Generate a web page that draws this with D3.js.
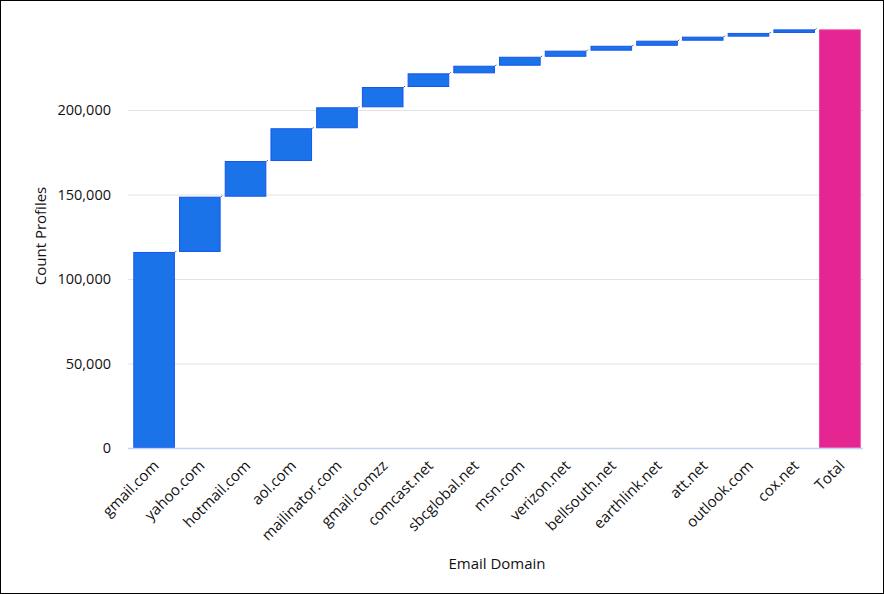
<!DOCTYPE html>
<html>
<head>
<meta charset="utf-8">
<script src="https://cdn.jsdelivr.net/npm/d3@7"></script>
<style>
  html, body { margin: 0; padding: 0; background: #fff; }
  svg { display: block; font-family: "Open Sans", "Noto Sans", sans-serif; }
</style>
</head>
<body>
<svg id="chart" width="884" height="594"></svg>
<script>
const categories = ["gmail.com","yahoo.com","hotmail.com","aol.com","mailinator.com","gmail.comzz","comcast.net","sbcglobal.net","msn.com","verizon.net","bellsouth.net","earthlink.net","att.net","outlook.com","cox.net"];
const values = [116000, 32700, 21100, 19400, 12400, 12000, 8100, 4500, 5300, 3600, 2900, 3000, 2400, 2200, 2100];
const totalLabel = "Total";
const yTicks = [0, 50000, 100000, 150000, 200000];
const xTitle = "Email Domain";
const yTitle = "Count Profiles";

// build waterfall rows
let run = 0;
const rows = categories.map((c, i) => {
  const start = run; run += values[i];
  return { name: c, start: start, end: run, total: false };
});
rows.push({ name: totalLabel, start: 0, end: run, total: true });

const W = 884, H = 594;
const svg = d3.select("#chart");
svg.append("rect").attr("x", 0.5).attr("y", 0.5).attr("width", W - 1).attr("height", H - 1)
  .attr("fill", "#fff").attr("stroke", "#000").attr("stroke-width", 1);

const x = d3.scaleBand().domain(rows.map(d => d.name)).range([131, 863]).paddingInner(0.09).paddingOuter(0.05);
const y = d3.scaleLinear().domain([0, 200000]).range([448, 110]);

// grid
svg.append("g").selectAll("line").data(yTicks.filter(t => t > 0)).join("line")
  .attr("x1", 128).attr("x2", 863)
  .attr("y1", d => y(d) + 0.5).attr("y2", d => y(d) + 0.5)
  .attr("stroke", "#e3e3e3").attr("stroke-width", 1);

// y axis labels
const yAxis = d3.axisLeft(y).tickValues(yTicks).tickFormat(d3.format(",")).tickSize(0).tickPadding(0);
const gy = svg.append("g").attr("transform", "translate(111,0)").call(yAxis);
gy.select(".domain").remove();
gy.selectAll("text").attr("font-size", 14.5).attr("fill", "#111").attr("font-family", "'Open Sans', sans-serif");

// bars
svg.append("g").selectAll("rect").data(rows).join("rect")
  .attr("x", d => x(d.name) + 0.5)
  .attr("width", x.bandwidth() - 1)
  .attr("y", d => y(d.end) + 0.5)
  .attr("height", d => Math.max(0, y(d.start) - y(d.end) - 1))
  .attr("fill", d => d.total ? "#e52592" : "#1a73e8")
  .attr("stroke", d => d.total ? "#ee3d9c" : "#1555ee")
  .attr("stroke-width", 1);

// connectors (tiny)
svg.append("g").selectAll("line").data(rows.slice(0, rows.length - 1)).join("line")
  .attr("x1", d => x(d.name) + x.bandwidth())
  .attr("x2", d => x(d.name) + x.bandwidth() + 1.5)
  .attr("y1", d => y(d.end) + 0.5)
  .attr("y2", d => y(d.end) - 1)
  .attr("stroke", "#555").attr("stroke-width", 1);

// baseline
svg.append("line").attr("x1", 128).attr("x2", 863).attr("y1", y(0) + 0.5).attr("y2", y(0) + 0.5)
  .attr("stroke", "#c5d3f3").attr("stroke-width", 1.5);

// x axis labels
const xAxis = d3.axisBottom(x).tickSize(0).tickPadding(0);
const gx = svg.append("g").attr("transform", "translate(0,455)").call(xAxis);
gx.select(".domain").remove();
gx.selectAll("text")
  .attr("font-size", 15).attr("fill", "#111").attr("font-family", "'Open Sans', sans-serif")
  .attr("text-anchor", "end")
  .attr("dy", "0.35em")
  .attr("transform", "translate(2,8) rotate(-45)");

// titles
svg.append("text").attr("x", 497).attr("y", 569).attr("text-anchor", "middle")
  .attr("font-size", 15).attr("fill", "#111").text(xTitle);
svg.append("text").attr("transform", "translate(46,236) rotate(-90)").attr("text-anchor", "middle")
  .attr("font-size", 15).attr("fill", "#111").text(yTitle);
</script>
</body>
</html>
